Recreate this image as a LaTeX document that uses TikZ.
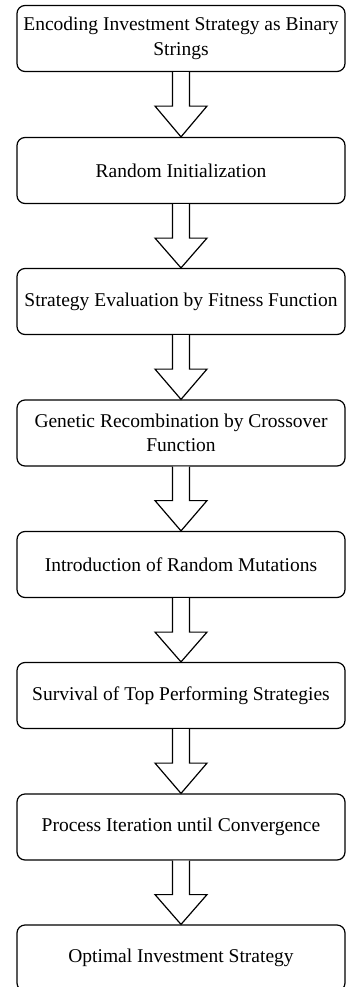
\documentclass[tikz,border=0pt]{standalone}
\usepackage{fontspec}
\setmainfont{Liberation Serif}
\usetikzlibrary{calc}
\begin{document}
\begin{tikzpicture}[x=1bp,y=-1bp,
  stepbox/.style={draw, line width=1.2bp, rounded corners=8bp, minimum width=328bp, minimum height=66bp,
    inner sep=0pt, align=center, font=\fontsize{19.5bp}{24.5bp}\selectfont},
  flowarrow/.style={draw, line width=1.2bp, fill=white, line join=miter}]
\useasboundingbox (0,0) rectangle (352,987);
\clip (0,0) rectangle (352,987);
\node[stepbox] (s1) at (181,38.5) {Encoding Investment Strategy as Binary\\Strings};
\node[stepbox] (s2) at (181,170.5) {Random Initialization};
\node[stepbox] (s3) at (181,301.5) {Strategy Evaluation by Fitness Function};
\node[stepbox] (s4) at (181,433) {Genetic Recombination by Crossover\\Function};
\node[stepbox] (s5) at (181,564.5) {Introduction of Random Mutations};
\node[stepbox] (s6) at (181,695.5) {Survival of Top Performing Strategies};
\node[stepbox] (s7) at (181,827) {Process Iteration until Convergence};
\node[stepbox] (s8) at (181,958) {Optimal Investment Strategy};
\foreach \a/\b in {s1/s2,s2/s3,s3/s4,s4/s5,s5/s6,s6/s7,s7/s8}{
  \draw[flowarrow] ($(\a.south)+(-8.5,0)$) -- ($(\a.south)+(-8.5,34)$) -- ($(\a.south)+(-26,34)$)
    -- (\b.north) -- ($(\a.south)+(26,34)$) -- ($(\a.south)+(8.5,34)$) -- ($(\a.south)+(8.5,0)$);
}
\end{tikzpicture}
\end{document}
